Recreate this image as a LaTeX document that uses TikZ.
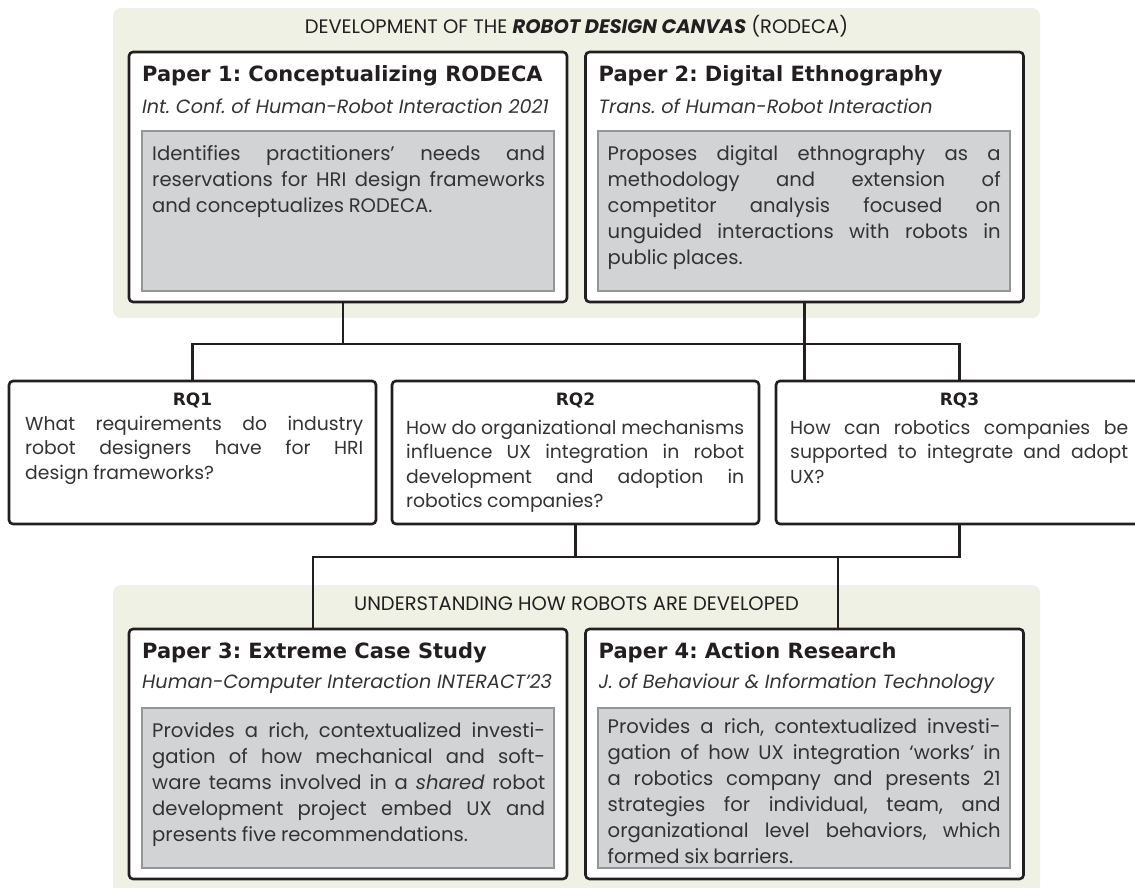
\documentclass[tikz,border=0pt]{standalone}
\usepackage{fontspec}
\setmainfont{Poppins}
\newfontfamily\headfont{DejaVu Sans}
\usetikzlibrary{calc,positioning}
\definecolor{panelfill}{HTML}{EFF1E5}
\definecolor{sumfill}{HTML}{D1D3D4}
\definecolor{sumline}{HTML}{939598}
\definecolor{ink}{HTML}{231F20}
\definecolor{bodyink}{HTML}{333333}
\newcommand{\tightspaces}{\spaceskip=0.24em plus 1em minus 0.08em\relax}
\frenchspacing

\begin{document}
\begin{tikzpicture}[
  x=1pt, y=-1pt,
  panel/.style={fill=panelfill, rounded corners=8pt},
  banner/.style={font=\fontsize{19.5}{22}\selectfont, text=ink, inner sep=0pt},
  paperbox/.style={draw=ink, line width=2.6pt, fill=white, rounded corners=4pt,
    minimum width=438pt, minimum height=250pt, inner sep=0pt, outer sep=0pt},
  papertitle/.style={font=\headfont\bfseries\fontsize{21}{26}\selectfont,
    text=ink, inner sep=0pt, anchor=base west},
  venue/.style={font=\itshape\fontsize{19.2}{23}\selectfont, text=bodyink,
    inner sep=0pt, anchor=base west},
  sumbox/.style={draw=sumline, line width=2pt, fill=sumfill, minimum width=412pt,
    minimum height=160pt, inner sep=0pt, outer sep=0pt, anchor=north west},
  sumtext/.style={font=\fontsize{19.6}{26}\selectfont\tightspaces, text=bodyink,
    text width=393pt, align=justify, inner sep=0pt, anchor=base west},
  rqbox/.style={draw=ink, line width=2.6pt, fill=white, rounded corners=4pt,
    minimum width=367pt, minimum height=143pt, inner sep=0pt, outer sep=0pt},
  rqlabel/.style={font=\headfont\bfseries\fontsize{17}{20}\selectfont,
    text=ink, inner sep=0pt, anchor=base},
  rqtext/.style={font=\fontsize{18.8}{24.5}\selectfont\tightspaces, text=bodyink,
    text width=338pt, align=justify, inner sep=0pt, anchor=base west},
  link/.style={draw=ink, line width=2.6pt},
]
  \clip (0,0) rectangle (1135,887);

  % Panels
  \fill[panel] (113,8) rectangle (1040,318);
  \fill[panel] (113,585) rectangle (1040,895);
  \node[banner] (devtitle) at (576.5,26.5)
    {DEVELOPMENT OF THE \textbf{\textit{ROBOT DESIGN CANVAS}} (RODECA)};
  \node[banner] (undtitle) at (576.5,603.5)
    {UNDERSTANDING HOW ROBOTS ARE DEVELOPED};

  % Paper 1
  \node[paperbox] (paper1) at (348,177) {};
  \node[papertitle] (p1title) at ($(paper1.north west)+(13,29)$)
    {Paper 1: Conceptualizing RODECA};
  \node[venue] (p1venue) at ($(paper1.north west)+(13,61)$)
    {Int. Conf. of Human-Robot Interaction 2021};
  \node[sumbox] (p1sum) at ($(paper1.north west)+(13,79)$) {};
  \node[sumtext] (p1text) at ($(p1sum.north west)+(10,29)$)
    {Identifies practitioners’ needs and\linebreak
     reservations for HRI design frameworks\linebreak
     and conceptualizes RODECA.};

  % Paper 2
  \node[paperbox] (paper2) at (804.5,177) {};
  \node[papertitle] (p2title) at ($(paper2.north west)+(13,29)$)
    {Paper 2: Digital Ethnography};
  \node[venue] (p2venue) at ($(paper2.north west)+(13,61)$)
    {Trans. of Human-Robot Interaction};
  \node[sumbox] (p2sum) at ($(paper2.north west)+(12,79)$) {};
  \node[sumtext] (p2text) at ($(p2sum.north west)+(10,29)$)
    {Proposes digital ethnography as a\linebreak
     methodology and extension of\linebreak
     competitor analysis focused on\linebreak
     unguided interactions with robots in\linebreak
     public places.};

  % Research questions
  \node[rqbox] (rq1) at (192.5,452.5) {};
  \node[rqlabel] (rq1label) at ($(rq1.north)+(0,24)$) {RQ1};
  \node[rqtext] (rq1text) at ($(rq1.north west)+(16,49)$)
    {What requirements do industry\linebreak
     robot designers have for HRI\linebreak
     design frameworks?};

  \node[rqbox] (rq2) at (575.5,452.5) {};
  \node[rqlabel] (rq2label) at ($(rq2.north)+(0,24)$) {RQ2};
  \node[rqtext] (rq2text) at ($(rq2.north west)+(14,53)$)
    {How do organizational mechanisms\linebreak
     influence UX integration in robot\linebreak
     development and adoption in\linebreak
     robotics companies?};

  \node[rqbox] (rq3) at (959.5,452.5) {};
  \node[rqlabel] (rq3label) at ($(rq3.north)+(0,24)$) {RQ3};
  \node[rqtext] (rq3text) at ($(rq3.north west)+(14,53)$)
    {How can robotics companies be\linebreak
     supported to integrate and adopt\linebreak
     UX?};

  % Paper 3
  \node[paperbox] (paper3) at (348,754) {};
  \node[papertitle] (p3title) at ($(paper3.north west)+(13,29)$)
    {Paper 3: Extreme Case Study};
  \node[venue] (p3venue) at ($(paper3.north west)+(13,59)$)
    {Human-Computer Interaction INTERACT’23};
  \node[sumbox] (p3sum) at ($(paper3.north west)+(13,79)$) {};
  \node[sumtext] (p3text) at ($(p3sum.north west)+(10,29)$)
    {Provides a rich, contextualized investi-\linebreak
     gation of how mechanical and soft-\linebreak
     ware teams involved in a \textit{shared} robot\linebreak
     development project embed UX and\linebreak
     presents five recommendations.};

  % Paper 4
  \node[paperbox] (paper4) at (804.5,754) {};
  \node[papertitle] (p4title) at ($(paper4.north west)+(13,29)$)
    {Paper 4: Action Research};
  \node[venue] (p4venue) at ($(paper4.north west)+(13,59)$)
    {J. of Behaviour \& Information Technology};
  \node[sumbox] (p4sum) at ($(paper4.north west)+(12,79)$) {};
  \node[sumtext] (p4text) at ($(p4sum.north west)+(10,25)$)
    {Provides a rich, contextualized investi-\linebreak
     gation of how UX integration ‘works’ in\linebreak
     a robotics company and presents 21\linebreak
     strategies for individual, team, and\linebreak
     organizational level behaviors, which\linebreak
     formed six barriers.};

  % Connectors
  \coordinate (busA) at (343,344);
  \coordinate (dropA) at (313,557);
  \coordinate (dropB) at (838,557);
  \draw[link] (paper1.south -| busA) -- (busA);
  \draw[link] (rq1.north) |- (busA) -| (rq3.north);
  \draw[link] (paper2.south) -- (paper2.south |- rq3.north);
  \draw[link] (rq2.south) -- (rq2.south |- dropA);
  \draw[link] (rq3.south) |- (dropA) -- (paper3.north -| dropA);
  \draw[link] (dropB) -- (paper4.north -| dropB);
\end{tikzpicture}
\end{document}
